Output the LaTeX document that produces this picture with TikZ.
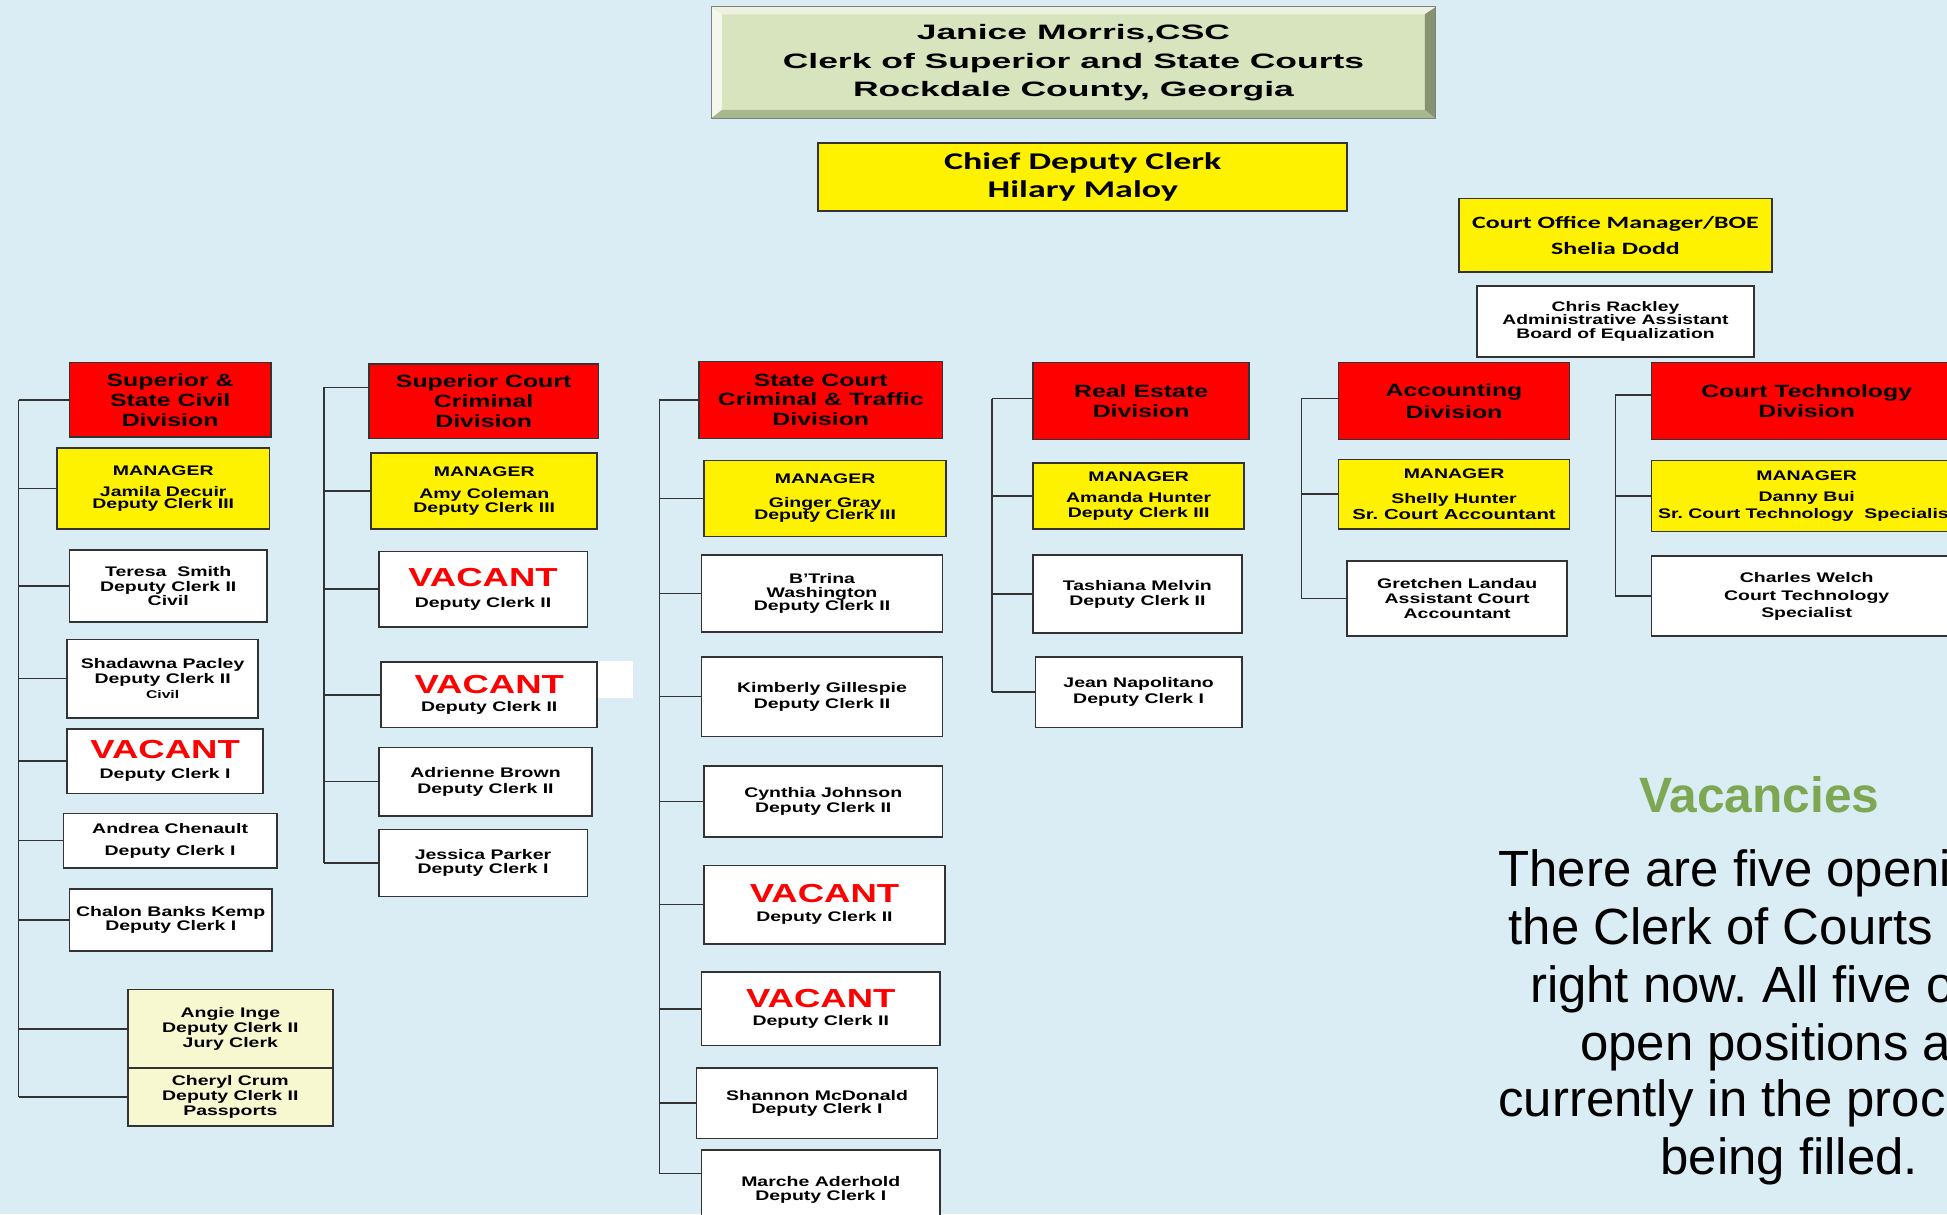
\documentclass[tikz,border=0pt]{standalone}
\usepackage{fontspec}
\usetikzlibrary{positioning,calc}
\newfontfamily\hdrfont[FakeStretch=1.7]{Liberation Sans}
\newfontfamily\calfont[FakeStretch=1.5]{Carlito}
\newfontfamily\orgfont[FakeStretch=1.4]{Liberation Sans}
\newfontfamily\bodyfont{Liberation Sans}
\definecolor{bgblue}{RGB}{219,237,244}
\definecolor{hdrgreen}{RGB}{215,228,189}
\definecolor{hdrlight}{RGB}{236,242,223}
\definecolor{hdrdark}{RGB}{168,184,142}
\definecolor{juryyellow}{RGB}{248,248,208}
\definecolor{vacgreen}{RGB}{126,167,84}
\newcommand{\vacword}{{\color{red}\fontsize{21}{16}\selectfont VACANT}}
\frenchspacing

\begin{document}
\begin{tikzpicture}[x=1pt,y=-1pt,
    box/.style={draw=black!80,line width=1.3pt,inner sep=0pt,align=center,font=\orgfont\bfseries\fontsize{11.2}{12}\selectfont},
    hdrbox/.style={draw=gray,line width=0.8pt,fill=hdrgreen,inner sep=0pt,align=center,font=\hdrfont\bfseries\fontsize{16.8}{22.8}\selectfont},
    divbox/.style={box,fill=red,font=\orgfont\bfseries\fontsize{14.3}{16}\selectfont},
    mgrbox/.style={box,fill=yellow},
    staffbox/.style={box,fill=white},
    jurybox/.style={box,fill=juryyellow},
    link/.style={draw=black!80,line width=1.3pt}]

    \fill[bgblue] (0,0) rectangle (1568,978);
    \clip (0,0) rectangle (1568,978);

    % head of the office
    \node[hdrbox, minimum width=583, minimum height=89] (clerk) at (864.5,50.5) {Janice Morris,CSC\\Clerk of Superior and State Courts\\Rockdale County, Georgia};
    \fill[hdrlight] (clerk.north west) -- (clerk.north east) -- ($(clerk.north east)+(-9,6)$) -- ($(clerk.north west)+(9,6)$) -- cycle;
    \fill[hdrlight!60!white] (clerk.north west) -- ($(clerk.north west)+(9,6)$) -- ($(clerk.south west)+(9,-7)$) -- (clerk.south west) -- cycle;
    \fill[hdrdark] (clerk.south west) -- ($(clerk.south west)+(9,-7)$) -- ($(clerk.south east)+(-9,-7)$) -- (clerk.south east) -- cycle;
    \fill[hdrdark!80!black] (clerk.south east) -- ($(clerk.south east)+(-9,-7)$) -- ($(clerk.north east)+(-9,6)$) -- (clerk.north east) -- cycle;
    \draw[gray, line width=0.8pt] (clerk.north west) rectangle (clerk.south east);

    \node[box, fill=yellow, font=\calfont\bfseries\fontsize{19.3}{22}\selectfont, minimum width=426, minimum height=55] (chief) at (872,142.5) {Chief Deputy Clerk\\Hilary Maloy};

    \node[box, fill=yellow, font=\calfont\bfseries\fontsize{13.9}{21}\selectfont, minimum width=252, minimum height=59] (offmgr) at (1301,189.5) {Court Office Manager/BOE\\Shelia Dodd};
    \node[staffbox, font=\orgfont\bfseries\fontsize{11.1}{11}\selectfont, minimum width=223, minimum height=57, below=10pt of offmgr] (rackley) {Chris Rackley\\Administrative Assistant\\Board of Equalization};

    % Superior & State Civil
    \node[divbox, minimum width=162, minimum height=60] (civdiv) at (137,322) {Superior \&\\State Civil\\Division};
    \node[mgrbox, minimum width=171, minimum height=65] (civmgr) at (131.5,393.5) {MANAGER\\[5pt]Jamila Decuir\\[-2pt]Deputy Clerk III};
    \node[staffbox, minimum width=159, minimum height=58] (teresa) at (135.5,472) {Teresa\ \ Smith\\Deputy Clerk II\\Civil};
    \node[staffbox, minimum width=154, minimum height=63] (shadawna) at (131,546.5) {Shadawna Pacley\\Deputy Clerk II\\{\fontsize{9}{12}\selectfont Civil}};
    \node[staffbox, minimum width=158, minimum height=52] (civvac) at (133,613) {\vacword\\[4pt]Deputy Clerk I};
    \node[staffbox, minimum width=172, minimum height=44] (andrea) at (137,677) {Andrea Chenault\\[6pt]Deputy Clerk I};
    \node[staffbox, minimum width=163, minimum height=50] (chalon) at (137.5,741) {Chalon Banks Kemp\\[-1pt]Deputy Clerk I};
    \node[jurybox, minimum width=165, minimum height=63] (angie) at (185.5,828.5) {Angie Inge\\Deputy Clerk II\\Jury Clerk};
    \node[jurybox, minimum width=165, minimum height=47, below=-1.3pt of angie] (cheryl) {Cheryl Crum\\Deputy Clerk II\\Passports};

    % Superior Court Criminal
    \node[divbox, minimum width=185, minimum height=60] (crimdiv) at (389.5,323) {Superior Court\\Criminal\\Division};
    \node[mgrbox, minimum width=182, minimum height=61] (crimmgr) at (390,395.5) {MANAGER\\[6pt]Amy Coleman\\[-1pt]Deputy Clerk III};
    \node[staffbox, minimum width=168, minimum height=61] (crimvaca) at (389,474.5) {\vacword\\[5pt]Deputy Clerk II};
    \fill[white] (481,532) rectangle (510,562);
    \node[staffbox, minimum width=174, minimum height=53] (crimvacb) at (394,559.5) {\vacword\\[2pt]Deputy Clerk II};
    \node[staffbox, minimum width=172, minimum height=55] (adrienne) at (391,629.5) {Adrienne Brown\\[1pt]Deputy Clerk II};
    \node[staffbox, minimum width=168, minimum height=54] (jessica) at (389,695) {Jessica Parker\\[-1pt]Deputy Clerk I};

    % State Court
    \node[divbox, minimum width=196, minimum height=62] (statediv) at (661,322) {State Court\\Criminal \& Traffic\\Division};
    \node[mgrbox, minimum width=195, minimum height=61] (statemgr) at (664.5,401.5) {MANAGER\\[7pt]Ginger Gray\\[-2pt]Deputy Clerk III};
    \node[staffbox, minimum width=194, minimum height=62] (btrina) at (662,478) {B’Trina\\[-1pt]Washington\\[-1pt]Deputy Clerk II};
    \node[staffbox, minimum width=194, minimum height=64] (kimberly) at (662,561) {Kimberly Gillespie\\[1pt]Deputy Clerk II};
    \node[staffbox, minimum width=192, minimum height=57] (cynthia) at (663,645.5) {Cynthia Johnson\\Deputy Clerk II};
    \node[staffbox, minimum width=194, minimum height=63] (statevaca) at (664,728.5) {\vacword\\[3pt]Deputy Clerk II};
    \node[staffbox, minimum width=192, minimum height=59] (statevacb) at (661,812.5) {\vacword\\[3pt]Deputy Clerk II};
    \node[staffbox, minimum width=194, minimum height=57] (shannon) at (658,888.5) {Shannon McDonald\\[-1pt]Deputy Clerk I};
    \node[staffbox, minimum width=192, minimum height=64] (marche) at (661,958) {Marche Aderhold\\[-1pt]Deputy Clerk I};

    % Real Estate
    \node[divbox, minimum width=174, minimum height=62] (realdiv) at (919,323) {Real Estate\\Division};
    \node[mgrbox, minimum width=170, minimum height=53] (realmgr) at (917,399.5) {MANAGER\\[5pt]Amanda Hunter\\Deputy Clerk III};
    \node[staffbox, minimum width=168, minimum height=63] (tashiana) at (916,478.5) {Tashiana Melvin\\Deputy Clerk II};
    \node[staffbox, minimum width=166, minimum height=57] (jean) at (917,557.5) {Jean Napolitano\\[1pt]Deputy Clerk I};

    % Accounting
    \node[divbox, minimum width=186, minimum height=62] (acctdiv) at (1171,323) {Accounting\\[2pt]Division};
    \node[mgrbox, minimum width=186, minimum height=56] (acctmgr) at (1171,398) {MANAGER\\[8pt]Shelly Hunter\\[1pt]{\fontsize{11.7}{12}\selectfont Sr. Court Accountant}};
    \node[staffbox, minimum width=177, minimum height=60] (gretchen) at (1173.5,482) {Gretchen Landau\\Assistant Court\\Accountant};

    % Court Technology
    \node[divbox, minimum width=250, minimum height=62] (techdiv) at (1455,323) {Court Technology\\Division};
    \node[mgrbox, minimum width=250, minimum height=57] (techmgr) at (1455,399.5) {MANAGER\\[5pt]Danny Bui\\[2pt]Sr. Court Technology\ \ Specialist};
    \node[staffbox, minimum width=250, minimum height=64] (charles) at (1455,480) {Charles Welch\\[3pt]Court Technology\\[1pt]Specialist};

    % trunks and ticks
    \coordinate (civtop) at (15,322);
    \coordinate (crimtop) at (261,312);
    \coordinate (statetop) at (531,321);
    \coordinate (realtop) at (799,321);
    \coordinate (accttop) at (1048,321);
    \coordinate (techtop) at (1301,318);
    \coordinate (statebot) at (531,945);

    \draw[link] (civtop) -- (civtop |- cheryl.west);
    \foreach \nn in {civdiv,civmgr,teresa,shadawna,civvac,andrea,chalon,angie,cheryl}{
        \draw[link] (\nn.west -| civtop) -- (\nn.west);
    }

    \draw[link] (crimtop) -- (crimtop |- jessica.west);
    \draw[link] (crimtop) -- (crimtop -| crimdiv.west);
    \foreach \nn in {crimmgr,crimvaca,crimvacb,adrienne,jessica}{
        \draw[link] (\nn.west -| crimtop) -- (\nn.west);
    }

    \draw[link] (statetop) -- (statebot) -- (statebot -| marche.west);
    \foreach \nn in {statediv,statemgr,btrina,kimberly,cynthia,statevaca,statevacb,shannon}{
        \draw[link] (\nn.west -| statetop) -- (\nn.west);
    }

    \draw[link] (realtop) -- (realtop |- jean.west);
    \draw[link] (realtop) -- (realtop -| realdiv.west);
    \foreach \nn in {realmgr,tashiana,jean}{
        \draw[link] (\nn.west -| realtop) -- (\nn.west);
    }

    \draw[link] (accttop) -- (accttop |- gretchen.west);
    \draw[link] (accttop) -- (accttop -| acctdiv.west);
    \foreach \nn in {acctmgr,gretchen}{
        \draw[link] (\nn.west -| accttop) -- (\nn.west);
    }

    \draw[link] (techtop) -- (techtop |- charles.west);
    \draw[link] (techtop) -- (techtop -| techdiv.west);
    \foreach \nn in {techmgr,charles}{
        \draw[link] (\nn.west -| techtop) -- (\nn.west);
    }

    % vacancies note
    \node[anchor=base west, inner sep=0pt, text=vacgreen, font=\bodyfont\bfseries\fontsize{40}{40}\selectfont] (vactitle) at (1320,654) {Vacancies};
    \foreach \xx/\yy/\txt [count=\i] in {1206.6/714/There are five openin, 1214.7/761/the Clerk of Courts o, 1232/807/right now. All five of, 1272.5/854/open positions ar, 1206.6/899/currently in the proce, 1337/946/being filled.}{
        \node[anchor=base west, inner sep=0pt, font=\bodyfont\fontsize{41}{46}\selectfont] (vacline\i) at (\xx,\yy) {\txt};
    }

\end{tikzpicture}
\end{document}
